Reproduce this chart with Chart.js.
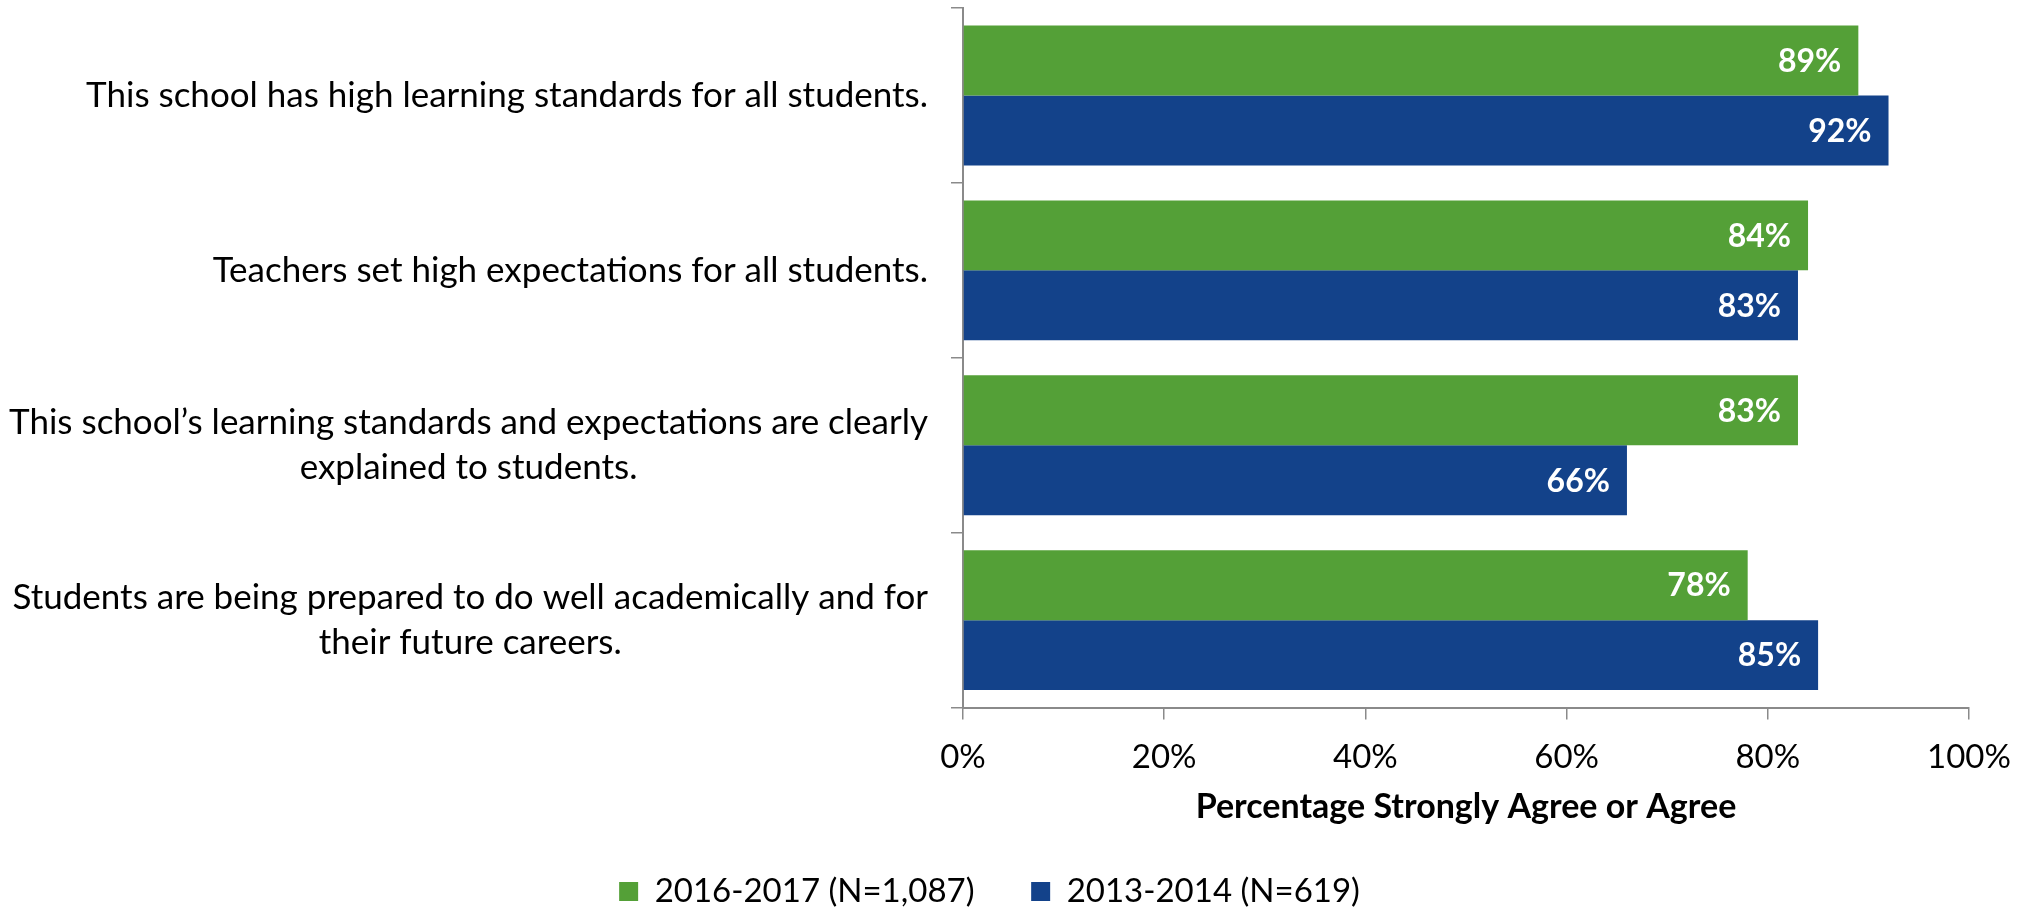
<!DOCTYPE html>
<html>
<head>
<meta charset="utf-8">
<script src="https://cdn.jsdelivr.net/npm/chart.js@4.4.1/dist/chart.umd.min.js"></script>
<style>
  html, body { margin: 0; padding: 0; background: #ffffff; }
  #wrap { width: 2031px; height: 910px; position: relative; }
</style>
</head>
<body>
<div id="wrap"><canvas id="survey-chart"></canvas></div>
<script>
const categories = [
  ["This school has high learning standards for all students."],
  ["Teachers set high expectations for all students."],
  ["This school\u2019s learning standards and expectations are clearly", "explained to students."],
  ["Students are being prepared to do well academically and for", "their future careers."],
];
const seriesNames = ["2016-2017 (N=1,087)", "2013-2014 (N=619)"];
const values2017 = [89, 84, 83, 78];
const values2014 = [92, 83, 66, 85];
const axisTitle = "Percentage Strongly Agree or Agree";

const green = "#54a037";
const blue = "#13428a";
const axisGray = "#8a8a8a";
const fontFamily = "Lato, 'Open Sans', sans-serif";

// Excel-style category labels: single lines right aligned, wrapped ones centred in their block
const categoryLabels = {
  id: "categoryLabels",
  afterDraw(chart) {
    const ctx = chart.ctx;
    const yScale = chart.scales.y;
    const right = yScale.right - 35;
    const lineGap = 45;
    ctx.save();
    ctx.font = "35px " + fontFamily;
    ctx.fillStyle = "#000000";
    ctx.textBaseline = "middle";
    categories.forEach(function (lines, i) {
      const yc = yScale.getPixelForValue(i);
      const blockW = Math.max.apply(null, lines.map(function (l) { return ctx.measureText(l).width; }));
      lines.forEach(function (line, j) {
        const y = yc + (j - (lines.length - 1) / 2) * lineGap;
        if (lines.length === 1) {
          ctx.textAlign = "right";
          ctx.fillText(line, right, y);
        } else {
          ctx.textAlign = "center";
          ctx.fillText(line, right - blockW / 2, y);
        }
      });
    });
    ctx.restore();
  },
};

// white value labels inside the bar ends
const valueLabels = {
  id: "valueLabels",
  afterDatasetsDraw(chart) {
    const ctx = chart.ctx;
    ctx.save();
    ctx.font = "bold 32px " + fontFamily;
    ctx.fillStyle = "#ffffff";
    ctx.textAlign = "right";
    ctx.textBaseline = "middle";
    chart.data.datasets.forEach(function (ds, di) {
      chart.getDatasetMeta(di).data.forEach(function (bar, i) {
        ctx.fillText(ds.data[i] + "%", bar.x - 17, bar.y + 1);
      });
    });
    ctx.restore();
  },
};

new Chart(document.getElementById("survey-chart"), {
  type: "bar",
  data: {
    labels: categories.map(function (l) { return l.join(" "); }),
    datasets: [
      {
        label: seriesNames[0],
        data: values2017,
        backgroundColor: green,
        categoryPercentage: 0.8,
        barPercentage: 1.0,
      },
      {
        label: seriesNames[1],
        data: values2014,
        backgroundColor: blue,
        categoryPercentage: 0.8,
        barPercentage: 1.0,
      },
    ],
  },
  options: {
    indexAxis: "y",
    responsive: true,
    maintainAspectRatio: false,
    animation: false,
    layout: { padding: { top: 8, right: 62, bottom: -8, left: 10 } },
    plugins: {
      tooltip: { enabled: false },
      legend: {
        position: "bottom",
        labels: {
          color: "#000000",
          font: { family: fontFamily, size: 33 },
          boxWidth: 19,
          boxHeight: 19,
          padding: 6,
          generateLabels: function (chart) {
            const items = Chart.defaults.plugins.legend.labels.generateLabels(chart);
            items[0].text = items[0].text + "      ";
            items.forEach(function (it) { it.lineWidth = 0; });
            return items;
          },
        },
      },
    },
    scales: {
      x: {
        min: 0,
        max: 100,
        ticks: {
          stepSize: 20,
          color: "#000000",
          padding: 18,
          font: { family: fontFamily, size: 33 },
          callback: function (v) { return v + "%"; },
        },
        grid: { drawOnChartArea: false, tickLength: 12, color: axisGray, lineWidth: 1.5 },
        border: { color: axisGray, width: 2 },
        title: {
          display: true,
          text: axisTitle,
          color: "#000000",
          font: { family: fontFamily, size: 34, weight: "bold" },
          padding: { top: -9, bottom: 42 },
        },
      },
      y: {
        ticks: { display: false },
        grid: { drawOnChartArea: false, tickLength: 12, color: axisGray, lineWidth: 1.5 },
        border: { color: axisGray, width: 2 },
        afterFit: function (scale) { scale.width = 953; },
      },
    },
  },
  plugins: [categoryLabels, valueLabels],
});
</script>
</body>
</html>
